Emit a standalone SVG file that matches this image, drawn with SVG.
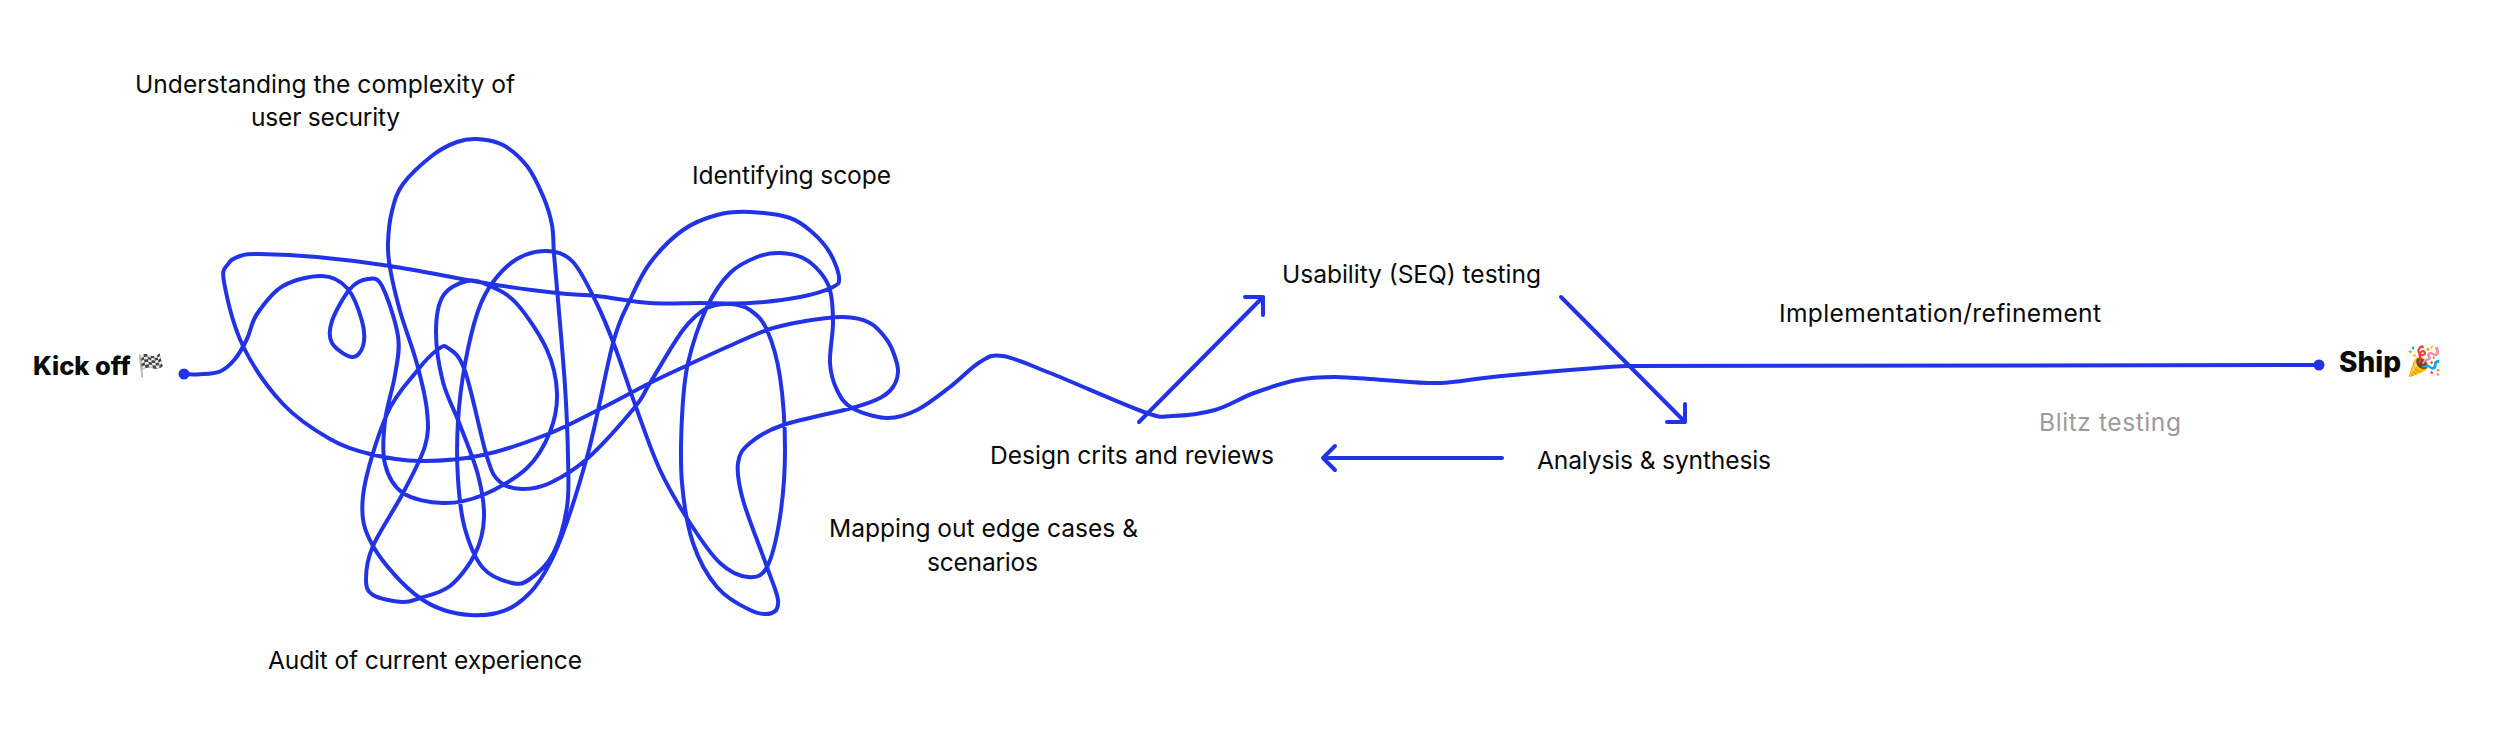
<svg xmlns="http://www.w3.org/2000/svg" width="2500" height="730" viewBox="0 0 2500 730">
<style>
text{font-family:"Inter","Liberation Sans",sans-serif;font-size:24.6px;fill:#0a0a0a}
.b{font-weight:800;font-size:25.5px}
.s{font-size:28px}
.g{fill:#9b9b9b}
.l{fill:none;stroke:#2233e6;stroke-width:4;stroke-linecap:round;stroke-linejoin:round}
.e{fill:#2233e6}
</style>
<rect width="2500" height="730" fill="#fff"/>
<g id="connectors">
<path id="scribble" class="l" d="M184 374C188 374 194 374.7 200 374.3S214.2 374 220 371.5S230.5 364.4 235 359S243.3 346.5 247 339S251 322.8 257 314S272.2 292.3 283 286S311.3 275.7 322 276S340.3 280.5 347 288S359.3 311.3 362 321S364.7 340 363 346S357.2 357.5 352 357S335.3 349 332 343S329 330 332 321S344 296 350 289S362.7 279.5 368 279S377 276.5 382 286S395.8 321.2 398 336S397.2 360.8 395 375S386.7 406.2 385 421S382 452 385 464S393.3 486.5 403 493S429.7 502.7 443 503S469 500.8 483 495S515.8 478.5 527 468S545 444.5 550 432S557.5 406.7 557 393S553.7 364.8 547 350S526.5 314.7 517 304S498.3 289.8 490 286S474.8 279.3 467 281S448.2 287.5 443 296S436 317.7 436 332S439 366.5 443 382S454.2 409.5 460 425S474 459.5 478 475S484.5 504.8 484 518S480.7 542.7 475 554S459.2 578.7 450 586S428 595.3 420 598S409.8 602.5 402 602S379 598.8 373 595S366 587.2 366 579S366.8 560.3 373 546S394.3 509.7 403 493S421 459.7 425 446S428.3 424.7 427 411S421.5 380.7 417 364S404.5 327 400 311S392 279.3 390 268S387.7 252.5 388 243S389.5 220.8 392 211S396.2 193.3 403 184S424 162 433 155S449.7 144.7 457 142S469.3 138.5 477 139S494.7 140.5 503 145S520.3 157.5 527 166S538.8 186.2 543 196S550.2 215.3 552 225S553 241.5 554 254S556.2 278 558 300S563.3 359.8 565 386S567.7 436.8 568 457S569.5 490.8 567 507S559.2 542 553 554S536.8 574.2 530 579S519.8 584.8 512 583S490.8 577 483 568S469.2 543.8 465 529S459.2 497 458 479S456.8 440.2 458 421S461.7 382.3 465 364S473.3 324.7 478 311S486.5 290.7 493 282S508 264.2 517 259S537.7 250.5 547 251S564.7 253.2 573 262S590 289.8 597 304S608.3 329.3 615 347S629.5 389.5 637 410S651.2 451.2 660 470S680 507.5 690 523S710.3 554 720 563S740.2 576.3 748 577S761.7 577 767 567S777 536.5 780 517S785 473.3 785 450S783 397 780 377S772 341.2 767 330S756.2 314.3 750 310S737.2 304.3 730 304S714.8 303.7 707 308S692.5 317.5 683 330S658 370.2 650 383S645.3 394.5 635 407S602.2 445.3 588 458S561 477.8 550 483S530.3 489.2 522 489S505.8 487.3 500 482S492.8 475.5 487 457S471.5 389.2 465 371S452.7 351.5 448 348S442.2 346.2 437 350S425.3 360.3 417 371S396 393.2 387 414S365.3 474 363 496S363.5 529 373 546S403.8 586.5 420 598S453.8 614 470 615S503.2 613.7 517 604S541.3 581.5 553 557S577 492.7 587 457S605.8 369.2 613 343S623.8 313.3 630 300S641.2 274.7 650 263S671.8 238 683 230S705.8 218 717 215S737.8 211.5 750 212S779.5 214.5 790 218S806.3 227.2 813 233S825.7 245.7 830 253S838.5 271.3 839 277S839.5 283.7 833 287S813.8 294.3 800 297S766.7 302 750 303S716.7 303 700 303S667.2 304.2 650 303S612.5 297.7 597 296S574.8 295 557 293S517.8 288.5 490 284S418.8 270.5 390 266S338.7 259 317 257S272.8 254.2 260 254S245.3 254.3 240 256S230.7 259.7 228 264S221.5 268.3 224 282S233.2 325.7 243 346S268.5 388.5 283 404S315.5 430.7 330 439S355 450.3 370 454S401.2 460.8 420 461S461.7 459.5 483 455S528.5 441.7 548 434S583 417.5 600 409S635.3 390.3 650 383S675.2 371 688 365S713.8 352.8 727 347S754.8 334.2 767 330S787.3 324.2 800 322S831.3 316.8 843 317S862.7 319.2 870 323S882.8 334.3 887 340S893.2 351.7 895 357S898.3 367 898 372S896 382.7 893 387S886.8 394.5 880 398S868.2 403.5 852 408S800 419.2 783 425S757.5 436.7 750 443S739.2 453.5 738 463S738.2 482.7 743 500S761.2 550.3 767 567S777.2 592.3 778 600S776.7 611.3 772 613S759.2 614.3 750 610S726.5 598.2 717 587S698.8 560.3 693 543S683.8 504 682 483S681 437 682 417S683.8 381.3 688 363S700 322 707 307S721.7 281.3 730 273S748.7 260.3 757 257S772.3 252.8 780 253S796.3 254.8 803 258S815.5 266.7 820 272S827.8 281.5 830 290S833 310.8 833 323S829.3 351.8 830 363S833.3 382.5 837 390S843.7 403.3 852 408S876.2 417.7 887 418S906.5 415.2 917 410S939.5 395 950 387S971.2 367.2 980 362S991.3 354.2 1003 356S1026.5 363.7 1050 373S1123.7 404.8 1144 412S1160.2 416.3 1172 416S1201.3 413.8 1215 410S1240.3 398 1254 393S1283.5 382.7 1297 380S1320.7 377 1335 377S1365.5 379 1383 380S1420.2 383.7 1440 383S1471 378.8 1502 376S1600 367 1627 366L2319 365"/>
<path class="l" d="M1139 422L1263 297M1245 297H1263V315"/>
<path class="l" d="M1561 297L1685 422M1685 404V422H1667"/>
<path class="l" d="M1502 458H1323M1335 446L1323 458L1335 470"/>
</g>
<g id="kickoff"><circle class="e" cx="184" cy="374" r="5.5"/><text class="b" x="33" y="375">Kick off <tspan x="137" y="373" font-size="22">🏁</tspan></text></g>
<g id="ship"><circle class="e" cx="2319" cy="365" r="5.5"/><text class="b s" x="2339" y="372">Ship <tspan x="2406" y="371" font-size="29">🎉</tspan></text></g>
<g id="complexity"><text x="135" y="93" textLength="380">Understanding the complexity of</text><text x="251" y="126" textLength="149">user security</text></g>
<g id="scope"><text x="692" y="184" textLength="199">Identifying scope</text></g>
<g id="mapping"><text x="829" y="537" textLength="309">Mapping out edge cases &amp;</text><text x="927" y="571" textLength="111">scenarios</text></g>
<g id="audit"><text x="268" y="669" textLength="314">Audit of current experience</text></g>
<g id="design"><text x="990" y="464" textLength="284">Design crits and reviews</text></g>
<g id="usability"><text x="1282" y="283" textLength="259">Usability (SEQ) testing</text></g>
<g id="analysis"><text x="1537" y="469" textLength="234">Analysis &amp; synthesis</text></g>
<g id="implementation"><text x="1779" y="322" textLength="322">Implementation/refinement</text></g>
<g id="blitz"><text class="g" x="2039" y="431" textLength="142">Blitz testing</text></g>
</svg>
